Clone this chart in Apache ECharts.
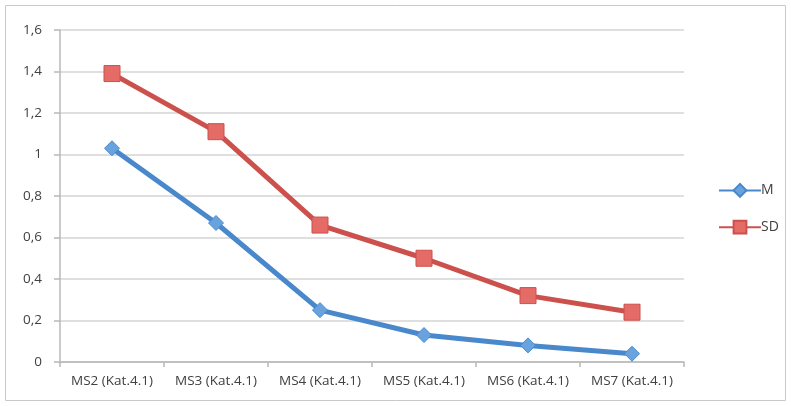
<!DOCTYPE html>
<html><head><meta charset="utf-8">
<script src="https://cdn.jsdelivr.net/npm/echarts@6/dist/echarts.min.js"></script>
<style>html,body{margin:0;padding:0;background:#fff}#c{width:791px;height:406px}</style>
</head><body><div id="c"></div>
<script>
const categories = ['MS2 (Kat.4.1)','MS3 (Kat.4.1)','MS4 (Kat.4.1)','MS5 (Kat.4.1)','MS6 (Kat.4.1)','MS7 (Kat.4.1)'];
const seriesM = [1.03, 0.67, 0.25, 0.13, 0.08, 0.04];
const seriesSD = [1.39, 1.11, 0.66, 0.50, 0.32, 0.24];
const yTicks = [0, 0.2, 0.4, 0.6, 0.8, 1, 1.2, 1.4, 1.6];

const chart = echarts.init(document.getElementById('c'), null, {renderer:'canvas'});
const font = 'Open Sans';
chart.setOption({
  animation:false,
  graphic:[{type:'rect', shape:{x:5.5,y:5.5,width:780,height:395}, style:{fill:'none', stroke:'#c8c8c8', lineWidth:1}, silent:true}],
  grid:{left:60, right:107, top:30, bottom:44, containLabel:false},
  legend:{
    orient:'vertical', left:713, top:178, itemGap:22, itemWidth:42, itemHeight:16,
    textStyle:{fontFamily:font, fontSize:14, color:'#404040', padding:[0,0,0,-5]},
    data:['M','SD']
  },
  xAxis:{
    type:'category', data:categories, boundaryGap:true,
    axisLine:{lineStyle:{color:'#b8b8b8', width:1.5}},
    axisTick:{show:true, alignWithLabel:false, length:5, lineStyle:{color:'#b8b8b8', width:1.5}},
    axisLabel:{fontFamily:font, fontSize:13.5, color:'#404040', margin:12, interval:0}
  },
  yAxis:{
    type:'value', min:0, max:1.6, interval:0.2,
    axisLine:{show:true, lineStyle:{color:'#b8b8b8', width:1.5}},
    axisTick:{show:true, length:6, lineStyle:{color:'#b8b8b8', width:1.5}},
    splitLine:{lineStyle:{color:'#d4d4d4', width:1.5}},
    axisLabel:{fontFamily:font, fontSize:13.5, color:'#404040', margin:18,
      formatter:v=>{const t=yTicks.find(x=>Math.abs(x-v)<1e-9); return String(t!==undefined?t:v).replace('.',',');}}
  },
  series:[
    {name:'M', type:'line', data:seriesM, symbol:'diamond', symbolSize:15,
     lineStyle:{color:'#4a88cc', width:5}, itemStyle:{color:'#68a3e0', borderColor:'#4a88cc', borderWidth:1}},
    {name:'SD', type:'line', data:seriesSD, symbol:'rect', symbolSize:16,
     lineStyle:{color:'#cc514d', width:5}, itemStyle:{color:'#e56b67', borderColor:'#cc514d', borderWidth:1}}
  ]
});
</script></body></html>
